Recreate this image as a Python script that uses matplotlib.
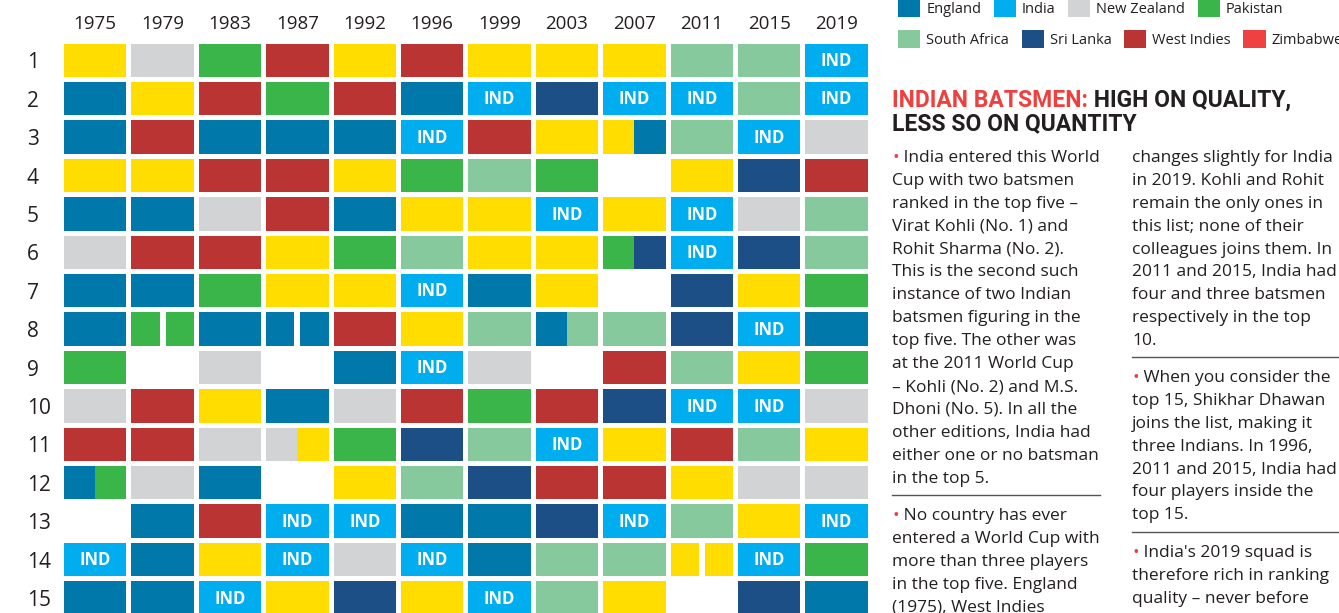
import matplotlib
matplotlib.use('Agg')
import matplotlib.pyplot as plt
from matplotlib.patches import Patch
from matplotlib import font_manager

# ---------- data ----------
years = ['1975', '1979', '1983', '1987', '1992', '1996',
         '1999', '2003', '2007', '2011', '2015', '2019']
ranks = list(range(1, 16))

# country code for rank 1..15 in each edition
# 'X/Y' = cell split between two countries, 'X|X' = two tied players, '' = no player
y1975 = ['A', 'E', 'E', 'A', 'E', 'N', 'E', 'E', 'P', 'N', 'W', 'E/P', '', 'I', 'E']
y1979 = ['N', 'A', 'W', 'A', 'E', 'W', 'E', 'P|P', '', 'W', 'W', 'N', 'E', 'E', 'E']
y1983 = ['P', 'W', 'E', 'W', 'N', 'W', 'P', 'E', 'N', 'A', 'N', 'E', 'W', 'A', 'I']
y1987 = ['W', 'P', 'E', 'W', 'W', 'A', 'A', 'E|E', '', 'E', 'N/A', '', 'I', 'I', 'A']
y1992 = ['A', 'W', 'E', 'A', 'E', 'P', 'A', 'W', 'E', 'N', 'P', 'A', 'I', 'N', 'L']
y1996 = ['W', 'E', 'I', 'P', 'A', 'S', 'I', 'A', 'I', 'W', 'L', 'S', 'E', 'I', 'A']
y1999 = ['A', 'I', 'W', 'S', 'A', 'A', 'E', 'S', 'N', 'P', 'S', 'L', 'E', 'E', 'I']
y2003 = ['A', 'L', 'A', 'P', 'I', 'A', 'A', 'E/S', '', 'W', 'I', 'W', 'L', 'S', 'S']
y2007 = ['A', 'I', 'A/E', '', 'A', 'P/L', '', 'S', 'W', 'L', 'A', 'W', 'I', 'S', 'A']
y2011 = ['S', 'I', 'S', 'A', 'I', 'I', 'L', 'L', 'S', 'I', 'W', 'A', 'S', 'A|A', '']
y2015 = ['S', 'S', 'I', 'L', 'N', 'L', 'A', 'I', 'A', 'I', 'S', 'N', 'A', 'I', 'L']
y2019 = ['I', 'I', 'N', 'W', 'S', 'S', 'P', 'E', 'P', 'N', 'A', 'N', 'I', 'P', 'E']
grid = [y1975, y1979, y1983, y1987, y1992, y1996,
        y1999, y2003, y2007, y2011, y2015, y2019]

countries = {'A': 'Australia', 'E': 'England', 'I': 'India', 'N': 'New Zealand',
             'P': 'Pakistan', 'S': 'South Africa', 'L': 'Sri Lanka',
             'W': 'West Indies', 'Z': 'Zimbabwe'}
colors = {'A': '#FFDD00', 'E': '#0079AA', 'I': '#00AEEF', 'N': '#D1D3D4',
          'P': '#39B54A', 'S': '#85C99C', 'L': '#1B4F86', 'W': '#BA3434',
          'Z': '#EF4141'}

legend_row1 = ['E', 'I', 'N', 'P']
legend_row2 = ['S', 'L', 'W', 'Z']

# ---------- fonts ----------
names = {f.name for f in font_manager.fontManager.ttflist}
body_font = ['Open Sans', 'DejaVu Sans']
if 'Liberation Sans Narrow' in names:
    head_font, head_size = 'Liberation Sans Narrow', 19.5
else:
    head_font, head_size = 'Roboto', 16.5
plt.rcParams['font.family'] = body_font

dark = '#231F20'
red = '#EF4040'
W, H = 1339, 613
body_size = 12.5

fig = plt.figure(figsize=(W / 100, H / 100), dpi=100)

# ---------- grid ----------
ax = fig.add_axes([61.5 / W, 1 - 617.1 / H, 808.8 / W, 576 / H])
cw, ch = 0.926, 0.872
for i, col in enumerate(grid):
    for r, code in zip(ranks, col):
        if not code:
            continue
        if '/' in code or '|' in code:
            gap = 0.09 if '|' in code else 0.0
            a, b = code.replace('|', '/').split('/')
            ax.bar(i - cw / 4 - gap / 4, ch, width=cw / 2 - gap / 2, bottom=r - ch / 2,
                   color=colors[a], linewidth=0)
            ax.bar(i + cw / 4 + gap / 4, ch, width=cw / 2 - gap / 2, bottom=r - ch / 2,
                   color=colors[b], linewidth=0)
        else:
            ax.bar(i, ch, width=cw, bottom=r - ch / 2, color=colors[code], linewidth=0)
            if code == 'I':
                ax.text(i, r + 0.02, 'IND', color='white', fontweight='bold',
                        fontsize=12, ha='center', va='center')

ax.set_xlim(-0.5, len(years) - 0.5)
ax.set_ylim(len(ranks) + 0.5, 0.5)
ax.xaxis.tick_top()
ax.set_xticks(range(len(years)))
ax.set_xticklabels(years, fontsize=13.5, color=dark)
ax.set_yticks(ranks)
ax.set_yticklabels([str(r) for r in ranks], fontsize=15, color=dark, ha='left')
ax.tick_params(axis='x', length=0, pad=6)
ax.tick_params(axis='y', length=0, pad=25)
for s in ax.spines.values():
    s.set_visible(False)

# ---------- legend ----------
def legend_row(codes, yc):
    handles = [Patch(facecolor=colors[c], edgecolor='none', label=countries[c]) for c in codes]
    fig.legend(handles=handles, loc='center left', bbox_to_anchor=(898 / W, 1 - yc / H),
               ncol=len(codes), frameon=False, fontsize=10.5, labelcolor=dark,
               handlelength=1.52, handleheight=1.52, handletextpad=0.42,
               columnspacing=0.85, borderpad=0, borderaxespad=0)

legend_row(legend_row1, 8)
legend_row(legend_row2, 39)

# ---------- text panel ----------
tx = fig.add_axes([0, 0, 1, 1])
tx.set_xlim(0, W)
tx.set_ylim(H, 0)
tx.axis('off')

h1 = tx.text(892, 107, 'INDIAN BATSMEN:', color=red, fontsize=head_size,
             fontweight='bold', family=head_font, va='baseline')
tx.annotate(' HIGH ON QUALITY,', xy=(1, 0), xycoords=h1, va='bottom', ha='left',
            color=dark, fontsize=head_size, fontweight='bold', family=head_font)
tx.text(892, 130, 'LESS SO ON QUANTITY', color=dark, fontsize=head_size,
        fontweight='bold', family=head_font, va='baseline')

pitch = 22.9


def para(x, y0, lines, bullet=True):
    for k, line in enumerate(lines):
        y = y0 + k * pitch
        if k == 0 and bullet:
            b = tx.text(x, y, '•', color=red, fontsize=body_size, va='baseline')
            tx.annotate(' ' + line, xy=(1, 0), xycoords=b, va='bottom', ha='left',
                        color=dark, fontsize=body_size)
        else:
            tx.text(x, y, line, color=dark, fontsize=body_size, va='baseline')


para(892, 162, ['India entered this World', 'Cup with two batsmen',
                'ranked in the top five –', 'Virat Kohli (No. 1) and',
                'Rohit Sharma (No. 2).', 'This is the second such',
                'instance of two Indian', 'batsmen figuring in the',
                'top five. The other was', 'at the 2011 World Cup',
                '– Kohli (No. 2) and M.S.', 'Dhoni (No. 5). In all the',
                'other editions, India had', 'either one or no batsman',
                'in the top 5.'])
tx.plot([892, 1100], [495, 495], color='#555555', lw=1)
para(892, 520, ['No country has ever', 'entered a World Cup with',
                'more than three players', 'in the top five. England',
                '(1975), West Indies'])

para(1132, 162, ['changes slightly for India', 'in 2019. Kohli and Rohit',
                 'remain the only ones in', 'this list; none of their',
                 'colleagues joins them. In', '2011 and 2015, India had',
                 'four and three batsmen', 'respectively in the top', '10.'],
     bullet=False)
tx.plot([1132, 1339], [357, 357], color='#555555', lw=1)
para(1132, 382, ['When you consider the', 'top 15, Shikhar Dhawan',
                 'joins the list, making it', 'three Indians. In 1996,',
                 '2011 and 2015, India had', 'four players inside the', 'top 15.'])
tx.plot([1132, 1339], [532, 532], color='#555555', lw=1)
para(1132, 557, ["India's 2019 squad is", 'therefore rich in ranking',
                 'quality – never before'])

fig.savefig('out.png', dpi=100)
